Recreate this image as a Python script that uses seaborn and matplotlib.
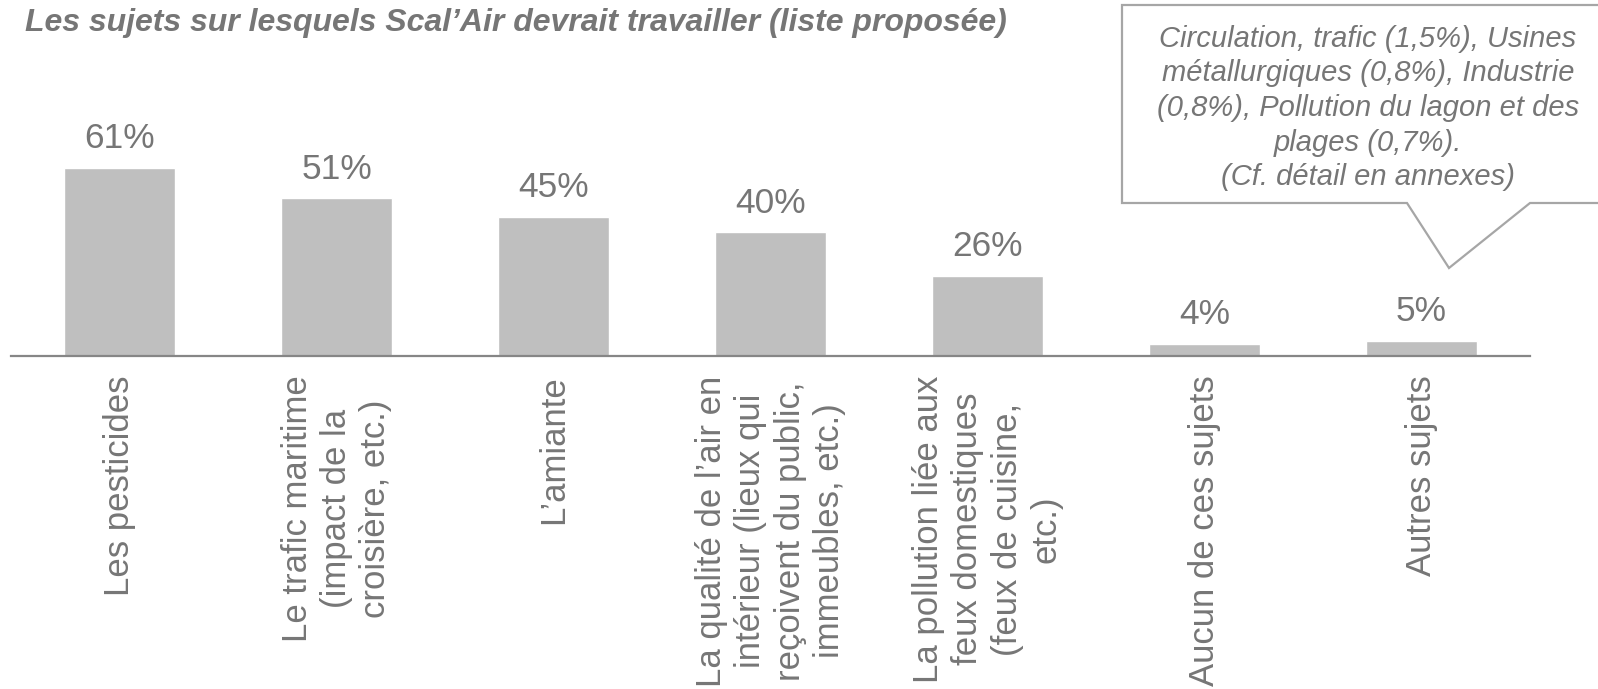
import matplotlib
matplotlib.use("Agg")
import matplotlib.pyplot as plt
import seaborn as sns
import pandas as pd
from matplotlib.patches import Polygon

# donnees du graphique
sujets = [
    "Les pesticides",
    "Le trafic maritime\n(impact de la\ncroisière, etc.)",
    "L’amiante",
    "La qualité de l’air en\nintérieur (lieux qui\nreçoivent du public,\nimmeubles, etc.)",
    "La pollution liée aux\nfeux domestiques\n(feux de cuisine,\netc.)",
    "Aucun de ces sujets",
    "Autres sujets",
]
pourcentages = [61, 51, 45, 40, 26, 4, 5]

titre = "Les sujets sur lesquels Scal’Air devrait travailler (liste proposée)"
note = ("Circulation, trafic (1,5%), Usines\n"
        "métallurgiques (0,8%), Industrie\n"
        "(0,8%), Pollution du lagon et des\n"
        "plages (0,7%).\n"
        "(Cf. détail en annexes)")

sns.set_style("white")
plt.rcParams["font.family"] = ["Liberation Sans", "DejaVu Sans"]

GRIS_TEXTE = "#767676"
GRIS_BARRE = "#BFBFBF"

W, H = 1598, 689
fig = plt.figure(figsize=(W / 100, H / 100), dpi=100)
ax = fig.add_axes([11 / W, 1 - 356 / H, (1530 - 11) / W, 216.3 / H])

df = pd.DataFrame({"sujet": sujets, "pct": pourcentages})
sns.barplot(data=df, x="sujet", y="pct", color=GRIS_BARRE, width=0.51,
            saturation=1, ax=ax)

ax.set_xlim(-0.5, 6.5)
ax.set_ylim(0, 70)
ax.set_xlabel("")
ax.set_ylabel("")
ax.set_yticks([])
for s in ["top", "right", "left"]:
    ax.spines[s].set_visible(False)
ax.spines["bottom"].set_color("#868686")
ax.spines["bottom"].set_linewidth(1.6)

ax.tick_params(axis="x", length=0, pad=14, labelsize=25, labelcolor=GRIS_TEXTE)
plt.setp(ax.get_xticklabels(), rotation=90, ha="center", va="top",
         multialignment="center", linespacing=1.24)

ax.bar_label(ax.containers[0], labels=[f"{v}%" for v in pourcentages],
             padding=9, fontsize=25.5, color=GRIS_TEXTE)

# titre
fig.text(25 / W, 1 - 8 / H, titre, ha="left", va="top", fontsize=23,
         fontweight="bold", fontstyle="italic", color=GRIS_TEXTE)

# bulle de commentaire
pts = [(1122, 5), (1602, 5), (1602, 203), (1530, 203), (1449, 268),
       (1407, 203), (1122, 203)]
bulle = Polygon([(x / W, 1 - y / H) for x, y in pts], closed=True,
                transform=fig.transFigure, facecolor="white",
                edgecolor="#A6A6A6", linewidth=1.6, zorder=5)
fig.patches.append(bulle)
fig.text(1368 / W, 1 - 108 / H, note, ha="center", va="center", fontsize=21,
         fontstyle="italic", color=GRIS_TEXTE, linespacing=1.3, zorder=6)

fig.savefig("out.png", dpi=100)
